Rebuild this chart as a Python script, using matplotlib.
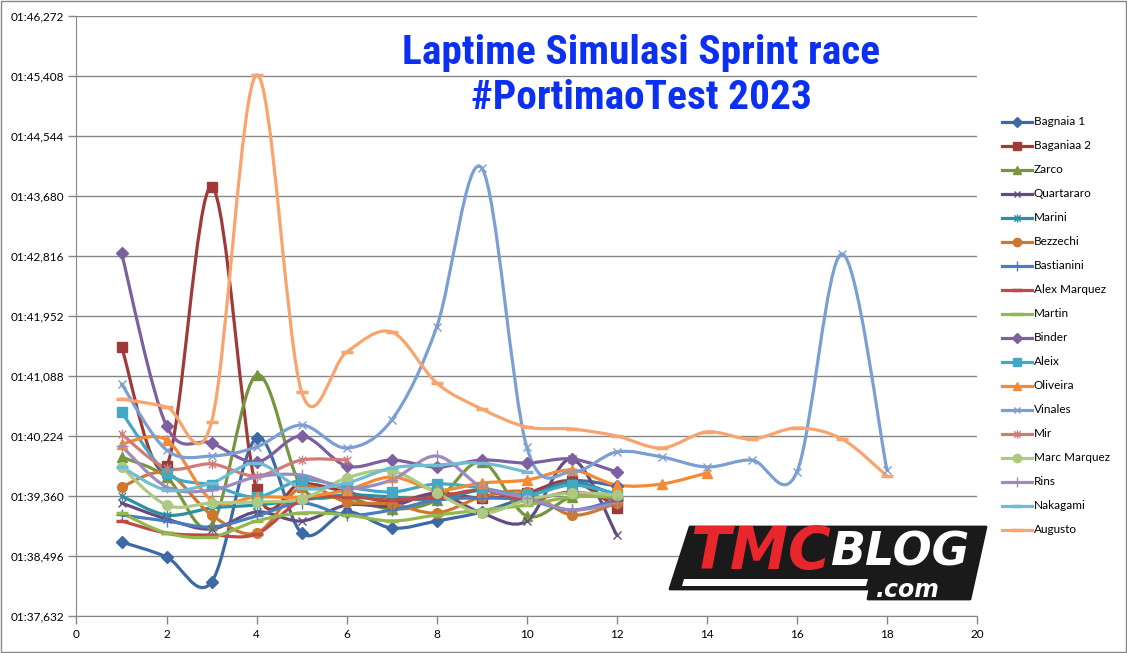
import numpy as np
import matplotlib
matplotlib.use('Agg')
import matplotlib.pyplot as plt
from matplotlib.path import Path
from matplotlib.patches import PathPatch, Polygon, Rectangle
from matplotlib.lines import Line2D
from matplotlib import font_manager

# Data: lap times in seconds per lap
riders = ['Bagnaia 1', 'Baganiaa 2', 'Zarco', 'Quartararo', 'Marini', 'Bezzechi',
          'Bastianini', 'Alex Marquez', 'Martin', 'Binder', 'Aleix', 'Oliveira',
          'Vinales', 'Mir', 'Marc Marquez', 'Rins', 'Nakagami', 'Augusto']

bagnaia_1 = [98.698, 98.482, 98.122, 100.195, 98.827, 99.130, 98.899, 99.000, 99.130, 99.346, 99.576, 99.504]
baganiaa_2 = [101.506, 99.792, 103.810, 99.461, 99.547, 99.418, 99.274, 99.403, 99.331, 99.403, 99.576, 99.187]
zarco = [99.922, 99.634, 98.942, 101.102, 99.490, 99.346, 99.173, 99.302, 99.850, 99.072, 99.346, 99.389]
quartararo = [99.259, 99.029, 98.885, 99.130, 99.000, 99.230, 99.216, 99.389, 99.115, 99.000, 99.893, 98.798]
marini = [99.360, 99.086, 99.187, 99.230, 99.302, 99.374, 99.346, 99.302, 99.446, 99.374, 99.562, 99.374]
bezzechi = [99.490, 99.691, 99.086, 98.827, 99.490, 99.274, 99.245, 99.115, 99.346, 99.418, 99.086, 99.259]
bastianini = [99.086, 99.000, 98.914, 99.072, 99.259, 99.086, 99.158, 99.302, 99.331, 99.302, 99.158, 99.302]
alex_marquez = [99.000, 98.827, 98.798, 98.813, 99.302, 99.346, 99.302, 99.346, 99.446, 99.302, 99.418, 99.302]
martin = [99.115, 98.827, 98.770, 99.000, 99.115, 99.086, 99.000, 99.086, 99.158, 99.230, 99.346, 99.346]
binder = [102.859, 100.368, 100.123, 99.850, 100.224, 99.792, 99.878, 99.778, 99.878, 99.835, 99.893, 99.706]
aleix = [100.570, 99.691, 99.518, 99.346, 99.590, 99.490, 99.418, 99.533, 99.475, 99.374, 99.518, 99.389]
oliveira = [100.109, 100.166, 99.302, 99.346, 99.346, 99.446, 99.634, 99.446, 99.547, 99.590, 99.734, 99.518, 99.533, 99.691]
vinales = [100.973, 100.022, 99.936, 100.066, 100.382, 100.051, 100.454, 101.794, 104.083, 100.066, 99.706, 99.994,
           99.922, 99.778, 99.878, 99.706, 102.845, 99.734]
mir = [100.253, 99.763, 99.821, 99.648, 99.878, 99.878]
marc_marquez = [99.778, 99.230, 99.259, 99.274, 99.317, 99.619, 99.720, 99.403, 99.115, 99.302, 99.403, 99.374]
rins = [100.080, 99.490, 99.446, 99.634, 99.662, 99.475, 99.590, 99.936, 99.490, 99.331, 99.158, 99.259]
nakagami = [99.778, 99.446, 99.547, 99.835, 99.475, 99.547, 99.763, 99.806, 99.835, 99.706]
augusto = [100.757, 100.642, 100.426, 105.422, 100.858, 101.434, 101.722, 100.987, 100.613, 100.354, 100.325, 100.224,
           100.051, 100.282, 100.181, 100.339, 100.181, 99.648]

series = [bagnaia_1, baganiaa_2, zarco, quartararo, marini, bezzechi, bastianini, alex_marquez, martin,
          binder, aleix, oliveira, vinales, mir, marc_marquez, rins, nakagami, augusto]

y_ticks = [97.632, 98.496, 99.360, 100.224, 101.088, 101.952, 102.816, 103.680, 104.544, 105.408, 106.272]
x_ticks = [0, 2, 4, 6, 8, 10, 12, 14, 16, 18, 20]

colors = ['#3D6AA6', '#9E3B39', '#77953D', '#624C82', '#2E8FA3', '#D0772E',
          '#4A7CC0', '#BE4B48', '#93B850', '#7C60A0', '#43A8C3', '#F48A36',
          '#7C9FD3', '#D17B78', '#AECA82', '#9D8BBF', '#70BCD3', '#F8A46E']

# Excel-like asterisk: X plus vertical bar
asterisk = Path([(-1, -1), (1, 1), (-1, 1), (1, -1), (0, -1.3), (0, 1.3)],
                [Path.MOVETO, Path.LINETO, Path.MOVETO, Path.LINETO, Path.MOVETO, Path.LINETO])

# marker, size, edge width
markers = [('D', 6, 1), ('s', 7, 1), ('^', 7, 1), ('x', 6, 1), (asterisk, 7, 1), ('o', 7, 1),
           ('+', 8, 1), ('_', 8, 2.5), ('_', 9, 2.5), ('D', 6, 1), ('s', 7, 1), ('^', 7, 1),
           ('x', 6, 1), (asterisk, 7, 1), ('o', 7, 1), ('+', 8, 1), ('_', 8, 2.5), ('_', 9, 2.5)]

W, H = 1127, 653
GRAY = '#868686'

# pick a narrow bold face for the title if one is there
installed = {f.name for f in font_manager.fontManager.ttflist}
narrow = [f for f in ['Liberation Sans Narrow', 'Roboto Condensed', 'Open Sans Condensed', 'DejaVu Sans Condensed']
          if f in installed]
if narrow:
    title_fam, title_size = [narrow[0], 'DejaVu Sans'], 29.8
else:
    title_fam, title_size = ['Roboto', 'DejaVu Sans'], 25


def smooth_path(xs, ys):
    # Catmull-Rom style bezier, like Excel's smoothed line
    pts = np.column_stack([xs, ys]).astype(float)
    n = len(pts)
    verts = [pts[0]]
    codes = [Path.MOVETO]
    for i in range(n - 1):
        p0 = pts[i - 1] if i > 0 else pts[i]
        p1 = pts[i]
        p2 = pts[i + 1]
        p3 = pts[i + 2] if i + 2 < n else pts[i + 1]
        verts += [p1 + (p2 - p0) / 6, p2 - (p3 - p1) / 6, p2]
        codes += [Path.CURVE4] * 3
    return Path(verts, codes)


def fmt_time(v, pos=None):
    total = int(round(v * 1000))
    m = total // 60000
    s = (total % 60000) // 1000
    ms = total % 1000
    return f'{m:02d}:{s:02d},{ms:03d}'


fig = plt.figure(figsize=(W / 100, H / 100), dpi=100)
ax = fig.add_axes([76.5 / W, (H - 616) / H, (977 - 76.5) / W, 600 / H])

for vals, col, (mk, ms, mew) in zip(series, colors, markers):
    laps = np.arange(1, len(vals) + 1)
    ax.add_patch(PathPatch(smooth_path(laps, vals), fill=False, edgecolor=col, lw=2.3,
                           capstyle='round', joinstyle='round'))
    ax.plot(laps, vals, linestyle='none', marker=mk, ms=ms, mew=mew, color=col, mfc=col, mec=col)

ax.set_xlim(0, 20)
ax.set_ylim(97.632, 106.272)
ax.set_xticks(x_ticks)
ax.set_yticks(y_ticks)
ax.yaxis.set_major_formatter(plt.FuncFormatter(fmt_time))
ax.grid(axis='y', color=GRAY, lw=1)
ax.set_axisbelow(True)
for side in ['top', 'right']:
    ax.spines[side].set_visible(False)
for side in ['left', 'bottom']:
    ax.spines[side].set_color(GRAY)
ax.tick_params(axis='both', colors=GRAY, labelcolor='black', labelsize=8.5, length=6, width=1)
ax.tick_params(axis='y', pad=3)
for lbl in ax.get_xticklabels() + ax.get_yticklabels():
    lbl.set_family(['Lato', 'DejaVu Sans'])

# overlay in pixel coordinates for title, legend, logo, frame
ov = fig.add_axes([0, 0, 1, 1], zorder=5)
ov.set_xlim(0, W)
ov.set_ylim(H, 0)
ov.axis('off')
ov.patch.set_alpha(0)

ov.add_patch(Rectangle((1, 1), W - 2, H - 2, fill=False, edgecolor=GRAY, lw=1))

title_font = dict(family=title_fam, weight='bold', color='#0B30F2', fontsize=title_size,
                  ha='center', va='center')
ov.text(641, 53, 'Laptime Simulasi Sprint race', **title_font)
ov.text(641, 98, '#PortimaoTest 2023', **title_font)

# legend
for i, (name, col, (mk, ms, mew)) in enumerate(zip(riders, colors, markers)):
    yy = 121.7 + 24 * i
    ov.add_line(Line2D([1002, 1032], [yy, yy], color=col, lw=2.3))
    ov.plot([1017], [yy], marker=mk, ms=ms - 1, mew=mew, color=col, mfc=col, mec=col)
    ov.text(1034, yy, name, va='center', ha='left', fontsize=8.5, family=['Lato', 'DejaVu Sans'])

# logo
ov.add_patch(Polygon([(690, 527), (986, 527), (970, 599), (868, 599), (870, 589), (670, 589)],
                     closed=True, facecolor='#1A1A1A', edgecolor='#1A1A1A', lw=2, joinstyle='round'))
ov.add_patch(Polygon([(684, 579), (868, 579), (866, 586), (682, 586)], closed=True,
                     facecolor='white', edgecolor='none'))
ov.text(690, 553, 'TMC', color='#E8262C', fontsize=42, weight='bold', style='italic',
        ha='left', va='center', family=['DejaVu Sans'])
ov.text(830, 553, 'BLOG', color='white', fontsize=33, weight='bold', style='italic',
        ha='left', va='center', family=['DejaVu Sans'])
ov.text(876, 590, '.com', color='white', fontsize=17, weight='bold', style='italic',
        ha='left', va='center', family=['DejaVu Sans'])

fig.savefig('out.png', dpi=100)
